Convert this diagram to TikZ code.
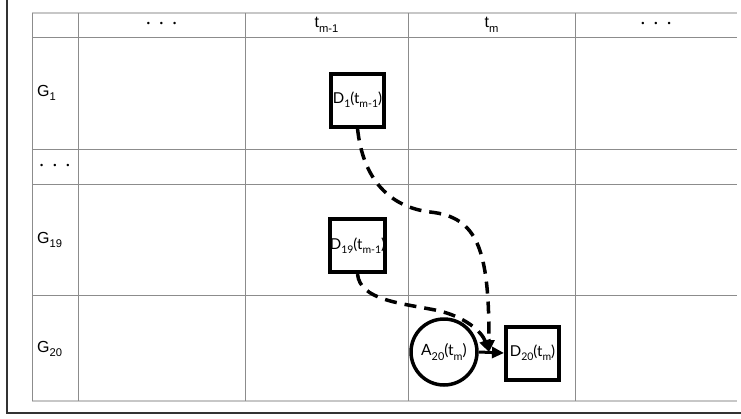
\documentclass[tikz,border=0pt]{standalone}
\usepackage{fontspec}
\setmainfont{Liberation Sans}
\newfontfamily\nodefont{Lato}
\usetikzlibrary{arrows.meta}
\newcommand{\tripledot}{{\fontsize{9}{10}\selectfont •\hspace{10pt}•\hspace{10pt}•}}
% subscript that scales with the current font size
\newcommand{\lowtxt}[1]{\raisebox{-0.28em}{\scalebox{0.7}{#1}}}
\begin{document}
\begin{tikzpicture}[x=1pt,y=-1pt,
  grid/.style={draw=black!45,line width=0.9pt},
  edge rule/.style={draw=black!22,line width=1.6pt},
  frame/.style={draw=black!80,line width=1.3pt},
  head/.style={font=\fontsize{16}{18}\selectfont,inner sep=0pt},
  dbox/.style={draw,line width=4pt,minimum size=53pt,inner sep=0pt,font=\nodefont\fontsize{15}{17}\selectfont},
  acirc/.style={draw,circle,line width=3.5pt,minimum size=66pt,inner sep=0pt,font=\nodefont\fontsize{15.5}{17}\selectfont},
  dasharrow/.style={line width=3.5pt,dash pattern=on 12pt off 8pt,-{Triangle[length=12pt,width=11pt]}},
  solidarrow/.style={line width=3pt,-{Triangle[length=12pt,width=11pt]}}]
\useasboundingbox (0,0) rectangle (741,418);
% outer frame: left and bottom edges
\draw[frame] (7,0) -- (7,413) -- (741,413);
% table rules
\foreach \y in {37,149,184,295} \draw[grid] (32,\y) -- (737,\y);
\draw[edge rule] (32,13) -- (737,13);
\draw[edge rule] (32,401) -- (737,401);
\foreach \x in {32,78,245,408,575} \draw[grid] (\x,13) -- (\x,401);
% column headings
\node[head] (h1) at (161.5,24) {\tripledot};
\node[head] (h2) at (326.5,25) {t\lowtxt{m-1}};
\node[head] (h3) at (491.5,25) {t\lowtxt{m}};
\node[head] (h4) at (656,24) {\tripledot};
% row headings
\node[head,anchor=west] (r1) at (37,93) {G\lowtxt{1}};
\node[head,anchor=west] (r2) at (40,166) {\tripledot};
\node[head,anchor=west] (r3) at (37,240) {G\lowtxt{19}};
\node[head,anchor=west] (r4) at (37,349) {G\lowtxt{20}};
% process nodes
\node[dbox] (d1) at (357.5,100) {D\lowtxt{1}(t\lowtxt{m-1})};
\node[dbox] (d19) at (357.5,245.5) {D\lowtxt{19}(t\lowtxt{m-1})};
\node[acirc] (a20) at (444,352) {A\lowtxt{20}(t\lowtxt{m})};
\node[dbox] (d20) at (532.5,353) {D\lowtxt{20}(t\lowtxt{m})};
\coordinate (tip) at (489,352);
% connectors
\draw[solidarrow] (a20.east) -- (d20.west);
\draw[dasharrow] (d1.south) .. controls (363,180) and (390,207) .. (430,212)
  .. controls (478,217) and (489,250) .. (tip);
\draw[dasharrow] (d19.south) .. controls (360,300) and (400,303) .. (435,310)
  .. controls (465,316) and (482,332) .. (tip);
\end{tikzpicture}
\end{document}
